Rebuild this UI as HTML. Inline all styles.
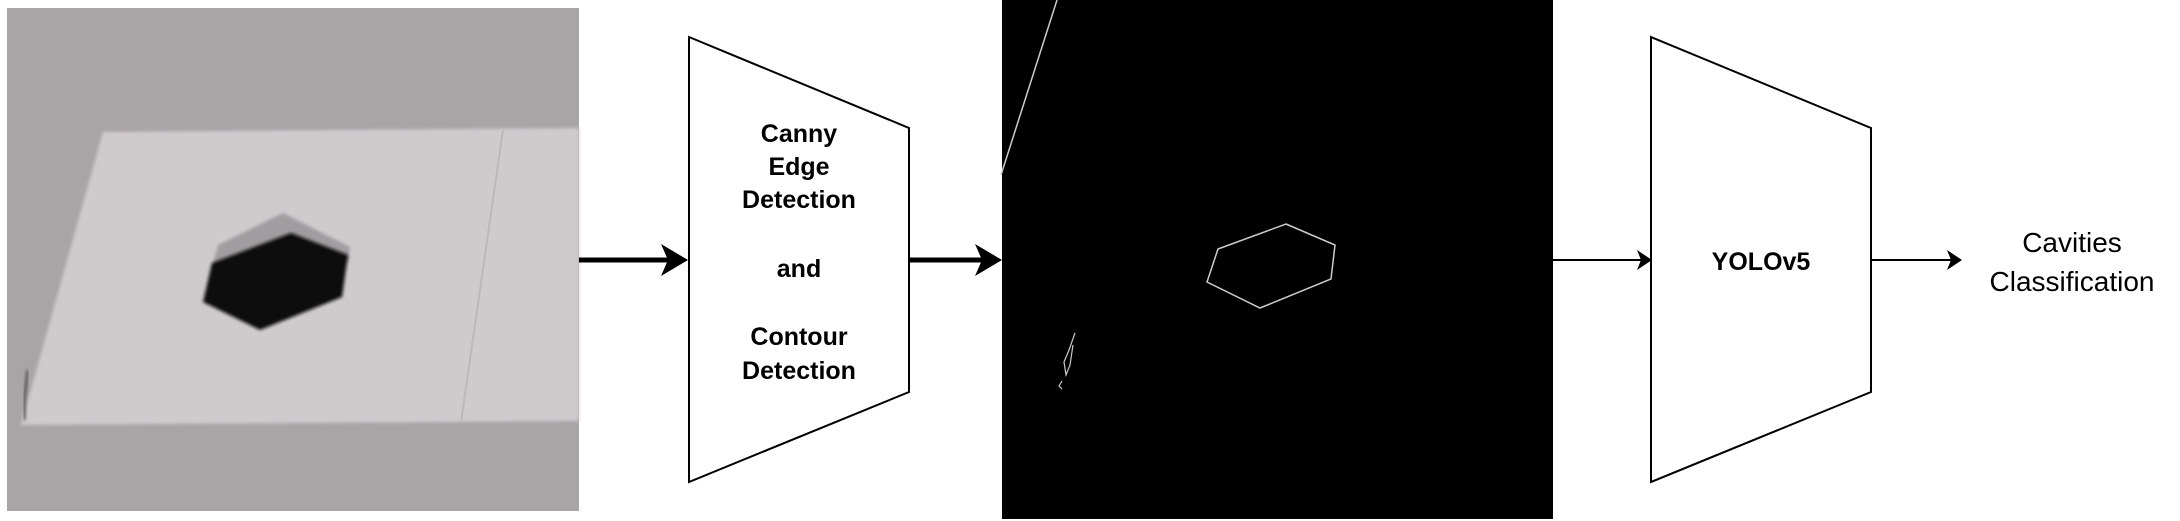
<!DOCTYPE html>
<html><head><meta charset="utf-8"><style>
html,body{margin:0;padding:0;background:#fff;width:2180px;height:521px;overflow:hidden}
svg{display:block}
text{font-family:"Liberation Sans",sans-serif}
</style></head><body>
<svg width="2180" height="521" viewBox="0 0 2180 521">
<defs>
<filter id="blur1"><feGaussianBlur stdDeviation="1.5"/></filter>
</defs>
<g>
<rect x="7" y="8" width="572" height="503" fill="#a9a4a6"/>
<polygon points="103,132 579,128 579,421 21,425" fill="#cfcbcd" filter="url(#blur1)"/>
<line x1="503" y1="130" x2="461" y2="422" stroke="#bdb8ba" stroke-width="2"/>
<polygon points="283,213 350,247 348,262 212,268 218,245" fill="#a19c9f" filter="url(#blur1)"/>
<polygon points="291,233 348,255 342,297 260,330 203,302 212,263" fill="#111" filter="url(#blur1)"/>
<path d="M28,370 L24,400 L24,420" stroke="#555" stroke-width="3" fill="none" filter="url(#blur1)"/>
</g>
<g>
<line x1="579" y1="260" x2="676" y2="260" stroke="#000" stroke-width="5"/>
<polygon points="688,260 661,244 668,260 661,276" fill="#000"/>
</g>
<g>
<polygon points="689,37 909,128 909,392 689,482" fill="#fff" stroke="#000" stroke-width="2"/>
<g font-weight="bold" font-size="25" text-anchor="middle" fill="#000">
<text x="799" y="142">Canny</text>
<text x="799" y="175">Edge</text>
<text x="799" y="208">Detection</text>
<text x="799" y="277">and</text>
<text x="799" y="345">Contour</text>
<text x="799" y="379">Detection</text>
</g>
</g>
<g>
<line x1="909" y1="260" x2="990" y2="260" stroke="#000" stroke-width="5"/>
<polygon points="1002,260 975,244 982,260 975,276" fill="#000"/>
</g>
<g>
<rect x="1002" y="0" width="551" height="519" fill="#000"/>
<line x1="1057" y1="0" x2="1001" y2="175" stroke="#ccc" stroke-width="1.5"/>
<polygon points="1286,224 1335,245 1331,279 1260,308 1207,282 1218,249" fill="none" stroke="#ccc" stroke-width="1.5"/>
<path d="M1075,333 L1069,350 L1064,362 L1066,375 L1070,365 L1073,345" stroke="#ccc" stroke-width="1.2" fill="none"/>
<path d="M1062,381 L1059,386 L1062,389" stroke="#ccc" stroke-width="1.2" fill="none"/>
</g>
<g>
<line x1="1553" y1="260" x2="1642" y2="260" stroke="#000" stroke-width="2"/>
<polygon points="1652,260 1637,250 1641,260 1637,270" fill="#000"/>
</g>
<g>
<polygon points="1651,37 1871,128 1871,392 1651,482" fill="#fff" stroke="#000" stroke-width="2"/>
<text x="1761" y="270" font-weight="bold" font-size="25" text-anchor="middle" fill="#000">YOLOv5</text>
</g>
<g>
<line x1="1871" y1="260" x2="1952" y2="260" stroke="#000" stroke-width="2"/>
<polygon points="1962,260 1947,250 1951,260 1947,270" fill="#000"/>
</g>
<g font-size="28" text-anchor="middle" fill="#000">
<text x="2072" y="252">Cavities</text>
<text x="2072" y="291">Classification</text>
</g>
</svg>
</body></html>
